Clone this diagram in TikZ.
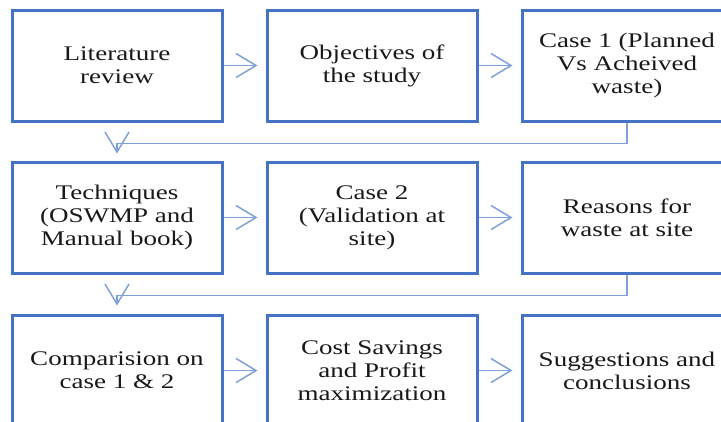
\documentclass[tikz,border=0pt]{standalone}
\usepackage{fontspec}
\setmainfont{Liberation Serif}[FakeStretch=1.3]
\usetikzlibrary{arrows.meta}
\definecolor{boxblue}{HTML}{4472C4}
\definecolor{linkblue}{HTML}{7FA0DA}
\begin{document}
\begin{tikzpicture}[x=1pt,y=-1pt,
  stage/.style={draw=boxblue, line width=3pt, minimum width=210pt, minimum height=111pt,
    inner sep=0pt, align=center, text=black!90, font=\fontsize{20.8}{23}\selectfont},
  link/.style={draw=linkblue, line width=1.5pt, -{Straight Barb[length=20pt,width=24pt]}, shorten >=8pt}]
  \useasboundingbox (0,0) rectangle (721,421);

  \node[stage] (lit)  at (117,65.5) {Literature\\review};
  \node[stage] (obj)  at (372,65.5) {Objectives of\\the study};
  \node[stage] (case1) at (627,65.5) {Case 1 (Planned\\Vs Acheived\\waste)};
  \node[stage] (tech) at (117,217.5) {Techniques\\(OSWMP and\\Manual book)};
  \node[stage] (case2) at (372,217.5) {Case 2\\(Validation at\\site)};
  \node[stage] (why)  at (627,217.5) {Reasons for\\waste at site};
  \node[stage] (comp) at (117,370.5) {Comparision on\\case 1 \& 2};
  \node[stage] (cost) at (372,370.5) {Cost Savings\\and Profit\\maximization};
  \node[stage] (sugg) at (627,370.5) {Suggestions and\\conclusions};

  \draw[link] (lit) -- (obj);
  \draw[link] (obj) -- (case1);
  \draw[link] (tech) -- (case2);
  \draw[link] (case2) -- (why);
  \draw[link] (comp) -- (cost);
  \draw[link] (cost) -- (sugg);
  \draw[link, shorten >=7pt] (case1.south) -- ++(0,21) -| (tech.north);
  \draw[link] (why.south) -- ++(0,21) -| (comp.north);
\end{tikzpicture}
\end{document}
